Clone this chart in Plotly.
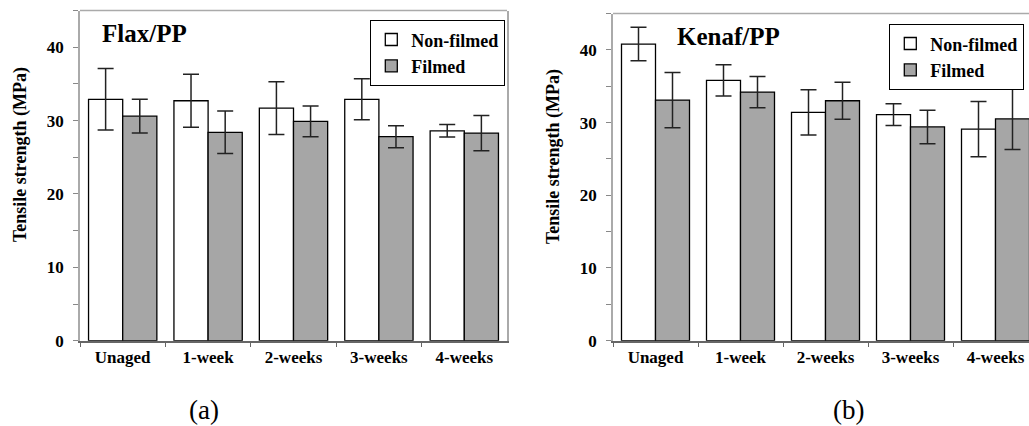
import plotly.graph_objects as go

categories = ["Unaged", "1-week", "2-weeks", "3-weeks", "4-weeks"]

flax_nonfilmed = [32.9, 32.7, 31.7, 32.9, 28.6]
flax_nonfilmed_err = [4.2, 3.6, 3.6, 2.8, 0.85]
flax_filmed = [30.6, 28.4, 29.9, 27.8, 28.3]
flax_filmed_err = [2.3, 2.9, 2.1, 1.5, 2.4]

kenaf_nonfilmed = [40.8, 35.8, 31.4, 31.1, 29.1]
kenaf_nonfilmed_err = [2.3, 2.15, 3.1, 1.5, 3.8]
kenaf_filmed = [33.1, 34.2, 33.0, 29.4, 30.5]
kenaf_filmed_err = [3.8, 2.15, 2.55, 2.3, 4.2]

y_ticks = [0, 10, 20, 30, 40]

FONT = "Liberation Serif, Times New Roman, serif"
W, H = 1029, 426

fig = go.Figure()

def add_pair(nf, nfe, f, fe, xa, ya, legend, show):
    fig.add_trace(go.Bar(
        x=categories, y=nf, name="Non-filmed", xaxis=xa, yaxis=ya,
        marker=dict(color="white", line=dict(color="black", width=1.3)),
        error_y=dict(type="data", array=nfe, visible=True, color="#222", thickness=1.5, width=8),
        legend=legend, showlegend=show))
    fig.add_trace(go.Bar(
        x=categories, y=f, name="Filmed", xaxis=xa, yaxis=ya,
        marker=dict(color="#a6a6a6", line=dict(color="black", width=1.3)),
        error_y=dict(type="data", array=fe, visible=True, color="#222", thickness=1.5, width=8),
        legend=legend, showlegend=show))

add_pair(flax_nonfilmed, flax_nonfilmed_err, flax_filmed, flax_filmed_err, "x", "y", "legend", True)
add_pair(kenaf_nonfilmed, kenaf_nonfilmed_err, kenaf_filmed, kenaf_filmed_err, "x2", "y2", "legend2", True)

y_bot = (H - 340.7) / H

bold17 = dict(family=FONT, size=17, color="black", weight="bold")

def xaxis_style(domain, rng):
    return dict(domain=domain, range=rng, showline=True, linecolor="#666", linewidth=1.5,
                ticks="outside", tickson="boundaries", ticklen=5, tickcolor="#666",
                tickfont=bold17, showgrid=False,
                zeroline=False, fixedrange=True)

def yaxis_style(domain, anchor):
    return dict(domain=domain, anchor=anchor, range=[0, 45], tickvals=y_ticks,
                showline=True, linecolor="#aaa", linewidth=1.5, mirror=True,
                ticks="outside", ticklen=5, tickcolor="#888",
                minor=dict(dtick=5, tick0=0, ticks="outside", ticklen=5, tickcolor="#888"),
                tickfont=bold17, ticklabelstandoff=6,
                showgrid=False, zeroline=False, fixedrange=True)

x1_dom = [80 / W, 507 / W]
x2_dom = [613 / W, 1.0]
x2_end = -0.5 + (W - 613) / 85.0

legend_font = dict(family=FONT, size=18, color="black", weight="bold")

fig.update_layout(
    width=W, height=H,
    margin=dict(l=0, r=0, t=0, b=0, autoexpand=False),
    paper_bgcolor="white", plot_bgcolor="white",
    barmode="group", bargap=0.2, bargroupgap=0,
    xaxis=dict(**xaxis_style(x1_dom, [-0.5, 4.5]), anchor="y"),
    yaxis=yaxis_style([y_bot, (H - 10.5) / H], "x"),
    xaxis2=dict(**xaxis_style(x2_dom, [-0.5, x2_end]), anchor="y2"),
    yaxis2=yaxis_style([y_bot, (H - 13.5) / H], "x2"),
    legend=dict(x=370 / W, y=1 - 20 / H, xanchor="left", yanchor="top",
                bordercolor="black", borderwidth=1.3, bgcolor="white",
                font=legend_font, tracegroupgap=0, itemwidth=30),
    legend2=dict(x=889 / W, y=1 - 24 / H, xanchor="left", yanchor="top",
                 bordercolor="black", borderwidth=1.3, bgcolor="white",
                 font=legend_font, tracegroupgap=0, itemwidth=30),
    showlegend=True,
)

# top borders of the plot frames
for xr, yr in [("x domain", "y domain"), ("x2 domain", "y2 domain")]:
    fig.add_shape(type="line", xref=xr, yref=yr, x0=0, x1=1, y0=1, y1=1,
                  line=dict(color="#aaa", width=1.5))

annotations = [
    dict(text="Flax/PP", x=100 / W, y=1 - 33 / H, xanchor="left", yanchor="middle",
         font=dict(family=FONT, size=25, color="black", weight="bold")),
    dict(text="Kenaf/PP", x=675 / W, y=1 - 36 / H, xanchor="left", yanchor="middle",
         font=dict(family=FONT, size=25, color="black", weight="bold")),
    dict(text="Tensile strength (MPa)", x=20 / W, y=1 - 155 / H, textangle=-90,
         xanchor="center", yanchor="middle", font=dict(family=FONT, size=18, color="black", weight="bold")),
    dict(text="Tensile strength (MPa)", x=553 / W, y=1 - 157 / H, textangle=-90,
         xanchor="center", yanchor="middle", font=dict(family=FONT, size=18, color="black", weight="bold")),
    dict(text="(a)", x=204 / W, y=1 - 410 / H, xanchor="center", yanchor="middle",
         font=dict(family=FONT, size=27, color="black")),
    dict(text="(b)", x=848 / W, y=1 - 410 / H, xanchor="center", yanchor="middle",
         font=dict(family=FONT, size=27, color="black")),
]
for a in annotations:
    fig.add_annotation(xref="paper", yref="paper", showarrow=False, **a)

fig.write_html("out.html")
